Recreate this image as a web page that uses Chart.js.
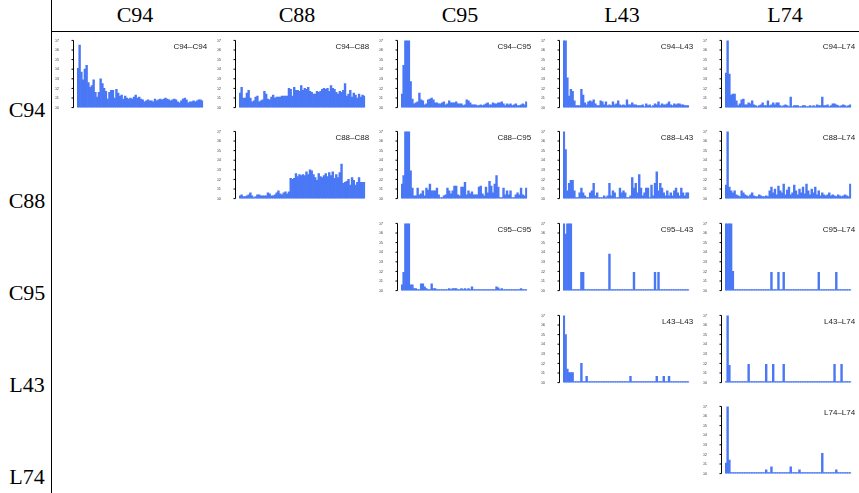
<!DOCTYPE html>
<html>
<head>
<meta charset="utf-8">
<script src="https://cdn.jsdelivr.net/npm/chart.js@4"></script>
<style>
body{margin:0;width:859px;height:493px;background:#fff;position:relative;overflow:hidden;font-family:"Liberation Serif",serif}
.hdr{position:absolute;font-size:22px;color:#000;transform:translate(-50%,-50%);white-space:nowrap}
.line{position:absolute;background:#000}
canvas{position:absolute}
</style>
</head>
<body>
<div class="line" style="left:51px;top:0;width:1px;height:493px"></div>
<div class="line" style="left:51px;top:31px;width:808px;height:1px"></div>
<div id="wrap"></div>
<script>
// groups, in order of rows / columns
var grupos = ['C94', 'C88', 'C95', 'L43', 'L74']
var N = 72
var binLabels = []
for (var i = 1; i <= N; i++) binLabels.push(String(i))
var yTicks = [0, 0.01, 0.02, 0.03, 0.04, 0.05, 0.06, 0.07]
var barColor = '#4a78f5'

var C94_C94 = [0.041,0.065,0.037,0.029,0.040,0.044,0.026,0.021,0.023,0.029,0.016,0.011,
    0.016,0.030,0.025,0.020,0.017,0.009,0.016,0.018,0.018,0.010,0.019,0.015,
    0.012,0.013,0.009,0.012,0.010,0.009,0.010,0.009,0.011,0.013,0.010,0.011,
    0.009,0.008,0.006,0.007,0.008,0.007,0.007,0.006,0.009,0.007,0.008,0.009,
    0.008,0.009,0.010,0.009,0.008,0.007,0.008,0.009,0.008,0.006,0.005,0.007,
    0.009,0.010,0.008,0.005,0.006,0.006,0.007,0.006,0.007,0.008,0.008,0.007]
var C94_C88 = [0.015,0.021,0.010,0.010,0.015,0.018,0.010,0.006,0.007,0.011,0.012,0.006,
    0.007,0.008,0.017,0.014,0.009,0.008,0.011,0.013,0.010,0.011,0.011,0.011,
    0.012,0.012,0.012,0.012,0.020,0.019,0.012,0.021,0.018,0.018,0.017,0.023,
    0.018,0.020,0.019,0.021,0.017,0.016,0.014,0.014,0.017,0.016,0.017,0.019,
    0.020,0.019,0.020,0.017,0.023,0.020,0.019,0.016,0.014,0.017,0.016,0.018,
    0.025,0.012,0.014,0.018,0.011,0.015,0.013,0.010,0.014,0.011,0.013,0.012]
var C94_C95 = [0.014,0.044,0.080,0.080,0.080,0.027,0.009,0.004,0.005,0.006,0.015,0.008,
    0.007,0.003,0.004,0.008,0.009,0.010,0.008,0.005,0.005,0.004,0.004,0.005,
    0.006,0.003,0.004,0.007,0.005,0.005,0.005,0.006,0.004,0.004,0.004,0.002,
    0.003,0.008,0.007,0.005,0.003,0.003,0.003,0.002,0.002,0.003,0.002,0.003,
    0.004,0.005,0.003,0.003,0.005,0.004,0.004,0.005,0.005,0.006,0.004,0.002,
    0.004,0.003,0.004,0.002,0.003,0.004,0.002,0.002,0.003,0.004,0.003,0.006]
var C94_L43 = [0.080,0.080,0.031,0.012,0.019,0.017,0.007,0.002,0.002,0.002,0.019,0.013,
    0.005,0.003,0.006,0.007,0.006,0.008,0.004,0.002,0.002,0.007,0.006,0.003,
    0.006,0.002,0.003,0.002,0.006,0.003,0.004,0.007,0.003,0.002,0.003,0.002,
    0.008,0.003,0.003,0.005,0.003,0.003,0.002,0.002,0.002,0.003,0.001,0.004,
    0.002,0.003,0.001,0.002,0.004,0.003,0.006,0.002,0.004,0.003,0.003,0.004,
    0.006,0.003,0.002,0.004,0.003,0.004,0.004,0.003,0.003,0.002,0.002,0.002]
var C94_L74 = [0.036,0.080,0.035,0.013,0.014,0.014,0.007,0.002,0.004,0.008,0.009,0.003,
    0.003,0.005,0.004,0.007,0.003,0.002,0.001,0.002,0.003,0.005,0.002,0.002,
    0.007,0.002,0.003,0.005,0.003,0.005,0.005,0.002,0.001,0.002,0.003,0.002,
    0.001,0.011,0.001,0.002,0.002,0.002,0.001,0.001,0.002,0.002,0.001,0.001,
    0.002,0.001,0.002,0.001,0.003,0.002,0.002,0.011,0.002,0.002,0.003,0.001,
    0.002,0.004,0.004,0.003,0.002,0.001,0.002,0.003,0.002,0.001,0.002,0.003]
var C88_C88 = [0.003,0.004,0.002,0.002,0.003,0.004,0.006,0.003,0.001,0.002,0.004,0.004,
    0.003,0.003,0.003,0.003,0.006,0.005,0.003,0.003,0.004,0.006,0.008,0.005,
    0.004,0.006,0.007,0.005,0.007,0.021,0.020,0.021,0.026,0.023,0.025,0.024,
    0.025,0.024,0.028,0.025,0.030,0.029,0.025,0.022,0.019,0.026,0.023,0.022,
    0.024,0.026,0.023,0.027,0.024,0.028,0.021,0.025,0.022,0.027,0.036,0.016,
    0.017,0.018,0.020,0.014,0.022,0.019,0.014,0.017,0.022,0.017,0.017,0.017]
var C88_C95 = [0.015,0.024,0.080,0.080,0.080,0.029,0.011,0.003,0.003,0.011,0.004,0.005,
    0.008,0.003,0.011,0.009,0.015,0.008,0.008,0.008,0.011,0.004,0.001,0.001,
    0.003,0.004,0.011,0.008,0.005,0.008,0.013,0.013,0.004,0.003,0.012,0.012,
    0.017,0.004,0.008,0.005,0.007,0.004,0.004,0.004,0.012,0.013,0.005,0.003,
    0.012,0.006,0.018,0.013,0.006,0.015,0.024,0.012,0.001,0.001,0.011,0.004,
    0.008,0.004,0.008,0.001,0.001,0.004,0.006,0.004,0.011,0.004,0.003,0.011]
var C88_L43 = [0.080,0.051,0.008,0.016,0.019,0.019,0.008,0.001,0.001,0.006,0.011,0.006,
    0.003,0.001,0.001,0.006,0.008,0.016,0.003,0.006,0.001,0.001,0.001,0.003,
    0.001,0.003,0.016,0.003,0.008,0.006,0.001,0.001,0.011,0.006,0.008,0.006,
    0.001,0.001,0.003,0.022,0.011,0.016,0.006,0.025,0.011,0.003,0.006,0.011,
    0.011,0.001,0.014,0.003,0.016,0.028,0.008,0.016,0.011,0.006,0.003,0.008,
    0.003,0.006,0.003,0.008,0.011,0.006,0.003,0.011,0.006,0.003,0.006,0.006]
var C88_L74 = [0.014,0.080,0.012,0.008,0.006,0.008,0.004,0.003,0.002,0.008,0.006,0.004,
    0.003,0.002,0.004,0.006,0.003,0.002,0.002,0.004,0.003,0.002,0.002,0.003,
    0.002,0.008,0.012,0.006,0.010,0.004,0.013,0.008,0.006,0.015,0.004,0.009,
    0.012,0.004,0.006,0.014,0.008,0.004,0.010,0.006,0.012,0.005,0.015,0.008,
    0.004,0.010,0.006,0.012,0.004,0.008,0.003,0.006,0.004,0.003,0.004,0.006,
    0.003,0.004,0.003,0.002,0.004,0.003,0.002,0.003,0.004,0.003,0.002,0.015]
var C95_C95 = [0.006,0.019,0.080,0.080,0.080,0.006,0.006,0.002,0.002,0.001,0.001,0.007,
    0.007,0.004,0.002,0.001,0.001,0.007,0.002,0.002,0.001,0.001,0.001,0.001,
    0.001,0.001,0.001,0.002,0.001,0.002,0.002,0.002,0.001,0.001,0.002,0.001,
    0.002,0.001,0.002,0.001,0.004,0.001,0.001,0.001,0.001,0.001,0.001,0.001,
    0.001,0.001,0.001,0.001,0.001,0.001,0.004,0.003,0.001,0.002,0.001,0.001,
    0.001,0.001,0.001,0.001,0.001,0.001,0.001,0.001,0.002,0.001,0.001,0.001]
var C95_L43 = [0.080,0.059,0.080,0.080,0.080,0.001,0.001,0.001,0.001,0.001,0.019,0.019,
    0.001,0.001,0.001,0.001,0.001,0.001,0.001,0.001,0.001,0.001,0.001,0.001,
    0.001,0.001,0.038,0.001,0.001,0.001,0.001,0.001,0.001,0.001,0.001,0.001,
    0.001,0.001,0.001,0.001,0.019,0.001,0.001,0.001,0.001,0.001,0.001,0.001,
    0.001,0.001,0.001,0.001,0.019,0.001,0.019,0.001,0.001,0.001,0.001,0.001,
    0.001,0.001,0.001,0.001,0.001,0.001,0.001,0.001,0.001,0.001,0.001,0.001]
var C95_L74 = [0.080,0.080,0.080,0.080,0.020,0.001,0.001,0.001,0.001,0.001,0.001,0.001,
    0.001,0.001,0.001,0.001,0.001,0.001,0.001,0.001,0.001,0.001,0.001,0.001,
    0.001,0.001,0.019,0.001,0.001,0.001,0.019,0.001,0.001,0.019,0.001,0.001,
    0.001,0.001,0.001,0.001,0.001,0.001,0.001,0.001,0.001,0.001,0.001,0.001,
    0.001,0.001,0.001,0.001,0.001,0.019,0.001,0.001,0.001,0.001,0.001,0.001,
    0.001,0.001,0.001,0.019,0.001,0.001,0.001,0.001,0.001,0.001,0.001,0.001]
var L43_L43 = [0.080,0.050,0.014,0.0105,0.0105,0.0105,0.001,0.001,0.001,0.001,0.020,0.001,
    0.001,0.0065,0.001,0.001,0.001,0.001,0.001,0.001,0.001,0.001,0.001,0.001,
    0.001,0.001,0.001,0.001,0.001,0.001,0.001,0.001,0.001,0.001,0.001,0.001,
    0.001,0.001,0.0065,0.001,0.001,0.001,0.001,0.001,0.001,0.001,0.001,0.001,
    0.001,0.001,0.001,0.001,0.001,0.0065,0.001,0.001,0.001,0.0065,0.001,0.001,
    0.0065,0.001,0.001,0.001,0.001,0.001,0.001,0.001,0.001,0.001,0.001,0.001]
var L43_L74 = [0.001,0.080,0.018,0.001,0.001,0.001,0.001,0.001,0.001,0.001,0.001,0.001,
    0.001,0.019,0.001,0.001,0.001,0.001,0.001,0.001,0.001,0.001,0.001,0.019,
    0.001,0.001,0.001,0.019,0.001,0.001,0.001,0.001,0.001,0.019,0.001,0.001,
    0.001,0.001,0.001,0.001,0.001,0.001,0.001,0.001,0.001,0.001,0.001,0.001,
    0.001,0.001,0.001,0.001,0.001,0.001,0.001,0.001,0.001,0.001,0.001,0.001,
    0.001,0.001,0.019,0.001,0.001,0.001,0.019,0.001,0.001,0.001,0.001,0.001]
var L74_L74 = [0.011,0.080,0.014,0.001,0.001,0.001,0.001,0.001,0.001,0.001,0.001,0.001,
    0.001,0.001,0.001,0.001,0.001,0.001,0.001,0.001,0.001,0.001,0.001,0.004,
    0.001,0.001,0.007,0.001,0.001,0.001,0.001,0.001,0.001,0.001,0.001,0.001,
    0.001,0.007,0.001,0.001,0.001,0.001,0.004,0.001,0.001,0.001,0.001,0.001,
    0.001,0.001,0.001,0.001,0.001,0.001,0.001,0.021,0.001,0.001,0.001,0.001,
    0.001,0.001,0.001,0.004,0.001,0.001,0.001,0.001,0.001,0.001,0.001,0.001]

var paneles = [
    [0, 0, C94_C94], [0, 1, C94_C88], [0, 2, C94_C95], [0, 3, C94_L43], [0, 4, C94_L74],
    [1, 1, C88_C88], [1, 2, C88_C95], [1, 3, C88_L43], [1, 4, C88_L74],
    [2, 2, C95_C95], [2, 3, C95_L43], [2, 4, C95_L74],
    [3, 3, L43_L43], [3, 4, L43_L74],
    [4, 4, L74_L74]
]

// header labels
var wrap = document.getElementById('wrap')
var colX = [135, 297, 460, 622, 785]
var rowY = [110, 201, 293, 385, 477]
grupos.forEach(function(g, i){
    var d = document.createElement('div')
    d.className = 'hdr'
    d.style.left = colX[i] + 'px'
    d.style.top = '15px'
    d.innerText = g
    wrap.appendChild(d)
    var r = document.createElement('div')
    r.className = 'hdr'
    r.style.left = '27px'
    r.style.top = rowY[i] + 'px'
    r.innerText = g
    wrap.appendChild(r)
})

// R style axis: line offset from bars, ticks outwards, title in corner
var ejeR = {
    id: 'ejeR',
    afterDraw: function(chart, args, opts){
        var ctx = chart.ctx, area = chart.chartArea, y = chart.scales.y
        var ax = Math.round(area.left - 4) + 0.5
        ctx.save()
        ctx.strokeStyle = '#000'
        ctx.lineWidth = 1
        ctx.beginPath()
        ctx.moveTo(ax, y.getPixelForValue(0))
        ctx.lineTo(ax, y.getPixelForValue(0.07))
        y.ticks.forEach(function(t){
            var py = y.getPixelForValue(t.value)
            ctx.moveTo(ax - 2, py)
            ctx.lineTo(ax, py)
        })
        ctx.stroke()
        ctx.fillStyle = '#222'
        ctx.font = '8px "Liberation Sans", Arial, sans-serif'
        ctx.textAlign = 'right'
        ctx.textBaseline = 'middle'
        ctx.fillText(opts.titulo, area.right + 4, area.top + 6)
        ctx.restore()
    }
}

var plotW = 126.5, plotH = 67.5

paneles.forEach(function(p){
    var row = p[0], col = p[1], vals = p[2]
    var x0 = 77 + 162 * col
    var yTop = 40 + 91.7 * row
    var cv = document.createElement('canvas')
    cv.width = 160
    cv.height = 90
    wrap.appendChild(cv)
    var graf = new Chart(cv, {
        type: 'bar',
        data: {
            labels: binLabels,
            datasets: [{
                data: vals,
                backgroundColor: barColor,
                borderWidth: 0,
                barPercentage: 1,
                categoryPercentage: 1
            }]
        },
        options: {
            responsive: false,
            maintainAspectRatio: false,
            animation: false,
            layout: {padding: {top: 4, left: 0, right: 2, bottom: 0}},
            plugins: {
                legend: {display: false},
                tooltip: {enabled: false},
                ejeR: {titulo: grupos[row] + '\u2013' + grupos[col]}
            },
            scales: {
                x: {
                    grid: {display: false},
                    border: {display: false},
                    ticks: {font: {size: 3}, color: '#666', maxRotation: 0, autoSkip: false, padding: 5},
                    afterFit: function(s){ s.height = 11 }
                },
                y: {
                    min: 0,
                    max: 0.07,
                    afterBuildTicks: function(s){ s.ticks = yTicks.map(function(v){ return {value: v} }) },
                    grid: {display: false},
                    border: {display: false},
                    ticks: {font: {size: 4}, color: '#444', padding: 10, autoSkip: false,
                        callback: function(v){ return v.toFixed(2) }},
                    afterFit: function(s){ s.width = 22 }
                }
            }
        },
        plugins: [ejeR]
    })
    // fit the plot area to the panel size, then place the canvas
    var a = graf.chartArea
    var w = cv.width + (plotW - (a.right - a.left))
    var h = cv.height + (plotH - (a.bottom - a.top))
    graf.resize(Math.round(w), Math.round(h))
    a = graf.chartArea
    cv.style.left = Math.round(x0 - a.left) + 'px'
    cv.style.top = Math.round(yTop - a.top) + 'px'
})
</script>
</body>
</html>
